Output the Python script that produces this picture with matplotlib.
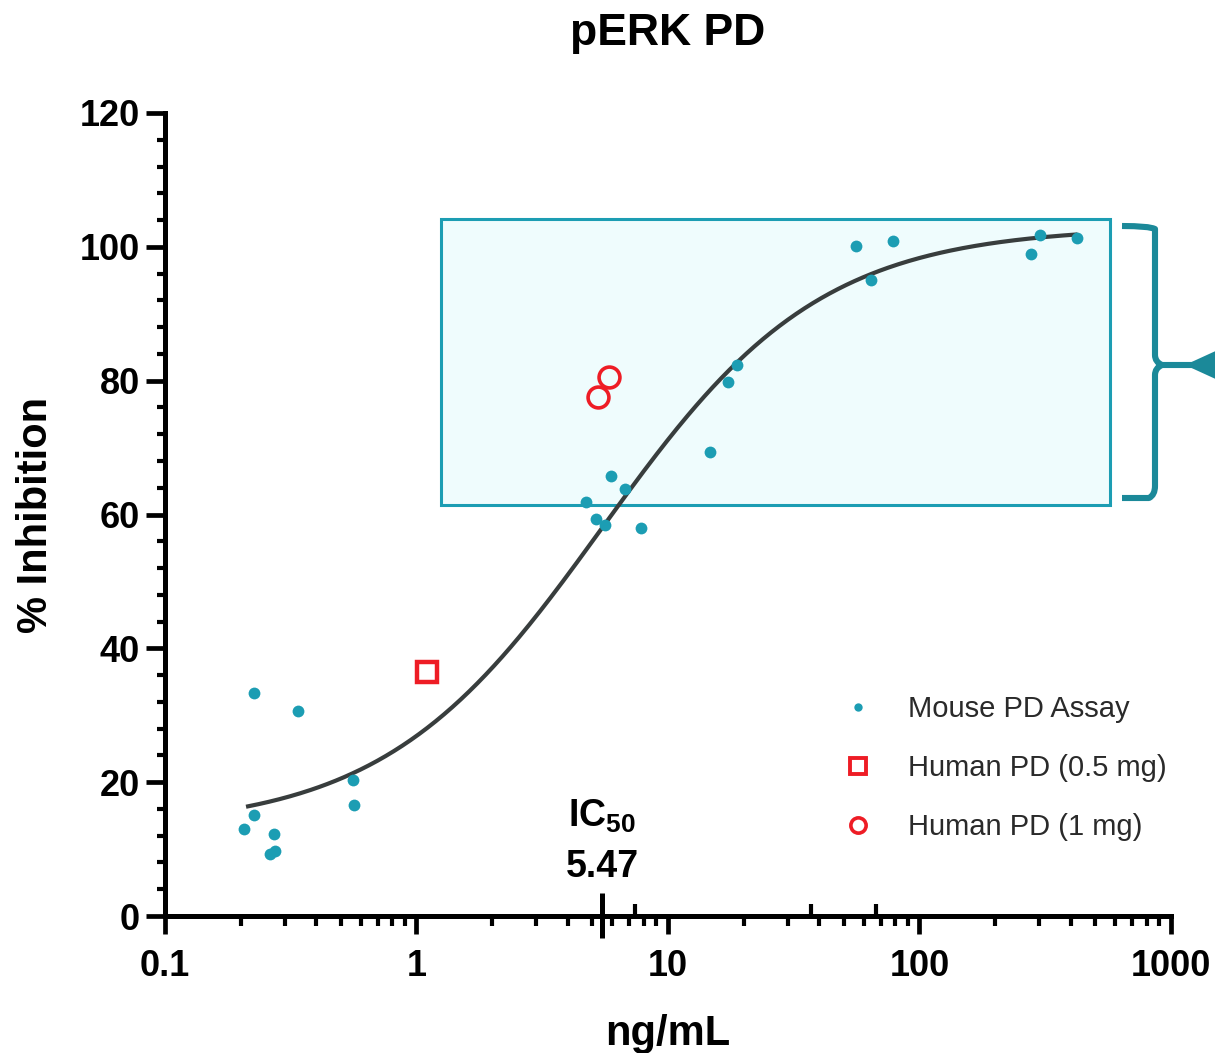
import numpy as np
import matplotlib
matplotlib.use("Agg")
import matplotlib.pyplot as plt
from matplotlib.lines import Line2D
from matplotlib.path import Path
from matplotlib.patches import PathPatch, Polygon, Rectangle
from matplotlib.ticker import FixedLocator, MultipleLocator, NullFormatter
import matplotlib.transforms as mtransforms

plt.rcParams["font.family"] = ["Liberation Sans", "DejaVu Sans"]
plt.rcParams["mathtext.fontset"] = "custom"
plt.rcParams["mathtext.bf"] = "Liberation Sans:bold"
plt.rcParams["mathtext.rm"] = "Liberation Sans"

# ---- data -------------------------------------------------------------
mouse_conc = [0.206, 0.226, 0.226, 0.272, 0.262, 0.275, 0.338, 0.560, 0.565,
              4.73, 5.18, 5.62, 5.95, 6.76, 7.82, 14.7, 17.4, 18.8,
              56.1, 64.3, 78.7, 278.6, 302.7, 424.6]
mouse_inhib = [13.0, 15.1, 33.3, 12.3, 9.3, 9.7, 30.6, 20.3, 16.6,
               61.9, 59.3, 58.4, 65.8, 63.8, 58.0, 69.4, 79.8, 82.4,
               100.1, 95.1, 100.9, 99.0, 101.8, 101.3]

human_05_conc = [1.10]
human_05_inhib = [36.5]

human_1_conc = [5.83, 5.27]
human_1_inhib = [80.6, 77.5]

# four-parameter logistic fit
fit_bottom, fit_top, fit_ic50, fit_hill = 13.0, 103.0, 5.47, 1.0
fit_range = (0.21, 425.0)

# shaded response window
window_conc = (1.25, 570.0)
window_inhib = (61.4, 104.2)

x_major = [0.1, 1, 10, 100, 1000]
x_major_labels = ["0.1", "1", "10", "100", "1000"]
y_major = [0, 20, 40, 60, 80, 100, 120]
extra_up_ticks = [7.4, 37.0, 67.0]

# ---- colours ----------------------------------------------------------
teal = "#1c9db3"
bracket_col = "#1b8999"
red = "#ee1c25"
curve_col = "#383d3d"

W, H = 1215, 1053
fig = plt.figure(figsize=(W / 100, H / 100), dpi=100)
ax = fig.add_axes([165 / W, 1 - 916 / H, 1006 / W, 803 / H])
ax.set_xscale("log")
ax.set_xlim(0.1, 1000)
ax.set_ylim(0, 120)

# shaded window
ax.add_patch(Rectangle((window_conc[0], window_inhib[0]),
                       window_conc[1] - window_conc[0],
                       window_inhib[1] - window_inhib[0],
                       facecolor="#effcfd", edgecolor=teal, lw=2.2, zorder=1))

# fitted curve
xc = np.logspace(np.log10(fit_range[0]), np.log10(fit_range[1]), 400)
yc = fit_bottom + (fit_top - fit_bottom) / (1 + (fit_ic50 / xc) ** fit_hill)
ax.plot(xc, yc, color=curve_col, lw=3.0, zorder=3, solid_capstyle="butt")

# data points
ax.plot(mouse_conc, mouse_inhib, "o", color=teal, ms=8.5, mec="none", zorder=4)
ax.plot(human_05_conc, human_05_inhib, "s", ms=15, mfc="none", mec=red,
        mew=3.2, zorder=5)
ax.plot(human_1_conc, human_1_inhib, "o", ms=15, mfc="none", mec=red,
        mew=2.6, zorder=5)

# axes styling
for s in ("top", "right"):
    ax.spines[s].set_visible(False)
for s in ("left", "bottom"):
    ax.spines[s].set_linewidth(3.6)
    ax.spines[s].set_capstyle("projecting")

ax.xaxis.set_major_locator(FixedLocator(x_major))
ax.set_xticklabels(x_major_labels)
minors = [m * d for d in (0.1, 1, 10, 100) for m in range(2, 10)]
ax.xaxis.set_minor_locator(FixedLocator(minors))
ax.xaxis.set_minor_formatter(NullFormatter())
ax.yaxis.set_major_locator(FixedLocator(y_major))
ax.yaxis.set_minor_locator(MultipleLocator(4))

ax.tick_params(axis="x", which="major", length=13, width=3.4, pad=11,
               labelsize=26)
ax.tick_params(axis="x", which="minor", length=7, width=3.0)
ax.tick_params(axis="y", which="major", length=14, width=3.4, pad=4,
               labelsize=26)
ax.tick_params(axis="y", which="minor", length=5.5, width=3.0)
for lab in ax.get_xticklabels() + ax.get_yticklabels():
    lab.set_fontweight("bold")

ax.set_xlabel("ng/mL", fontsize=30, fontweight="bold", labelpad=21)
ax.set_ylabel("% Inhibition", fontsize=30, fontweight="bold", labelpad=17)
ax.set_title("pERK PD", fontsize=32, fontweight="bold", pad=49)

# IC50 marker tick and annotation
trans = mtransforms.blended_transform_factory(ax.transData, ax.transAxes)
ax.plot([fit_ic50, fit_ic50], [-0.027, 0.029], color="black", lw=3.6,
        transform=trans, clip_on=False, zorder=6, solid_capstyle="butt")
for xv in extra_up_ticks:
    ax.plot([xv, xv], [0, 0.015], color="black", lw=3.0, transform=trans,
            clip_on=False, zorder=6, solid_capstyle="butt")
ax.text(fit_ic50, 13.3, r"$\mathbf{IC_{50}}$", ha="center", va="baseline",
        fontsize=27, fontweight="bold")
ax.text(fit_ic50, 5.8, f"{fit_ic50:.2f}", ha="center", va="baseline",
        fontsize=27, fontweight="bold")

# legend
handles = [
    Line2D([], [], ls="none", marker="o", color=teal, ms=6, mec="none"),
    Line2D([], [], ls="none", marker="s", mfc="none", mec=red, ms=12, mew=2.8),
    Line2D([], [], ls="none", marker="o", mfc="none", mec=red, ms=11, mew=2.6),
]
labels = ["Mouse PD Assay", "Human PD (0.5 mg)", "Human PD (1 mg)"]
leg = ax.legend(handles, labels, loc="upper left",
                bbox_to_anchor=((838 - 165) / 1006, (916 - 695) / 803),
                frameon=False, fontsize=21, labelspacing=1.06,
                handletextpad=1.0, handlelength=1.4, borderaxespad=0,
                borderpad=0)
for t in leg.get_texts():
    t.set_color("#2a2a2a")

# bracket pointing at the shaded window
def px(x, y):
    return (x / W, 1 - y / H)

top_y, mid_y, bot_y = 226, 365, 498
xl, xv, xm = 1122, 1155, 1162
verts = [px(xl, top_y), px(xv - 6, top_y), px(xv, top_y + 3), px(xv, top_y + 12),
         px(xv, mid_y - 10), px(xv, mid_y - 3), px(xm, mid_y),
         px(xv, mid_y + 3), px(xv, mid_y + 10),
         px(xv, bot_y - 12), px(xv, bot_y - 3), px(xv - 6, bot_y), px(xl, bot_y)]
codes = [Path.MOVETO, Path.CURVE3, Path.CURVE3, Path.LINETO,
         Path.LINETO, Path.CURVE3, Path.CURVE3,
         Path.CURVE3, Path.CURVE3,
         Path.LINETO, Path.CURVE3, Path.CURVE3, Path.LINETO]
fig.add_artist(PathPatch(Path(verts, codes), transform=fig.transFigure,
                         facecolor="none", edgecolor=bracket_col, lw=4.4,
                         capstyle="butt", joinstyle="round"))
fig.add_artist(Line2D([px(xm, 0)[0], px(1192, 0)[0]],
                      [px(0, mid_y)[1], px(0, mid_y)[1]],
                      transform=fig.transFigure, color=bracket_col, lw=4.4))
fig.add_artist(Polygon([px(1185, mid_y), px(1220, mid_y - 16),
                        px(1220, mid_y + 16)], closed=True,
                       transform=fig.transFigure, facecolor=bracket_col,
                       edgecolor="none"))

fig.savefig("out.png", dpi=100)
